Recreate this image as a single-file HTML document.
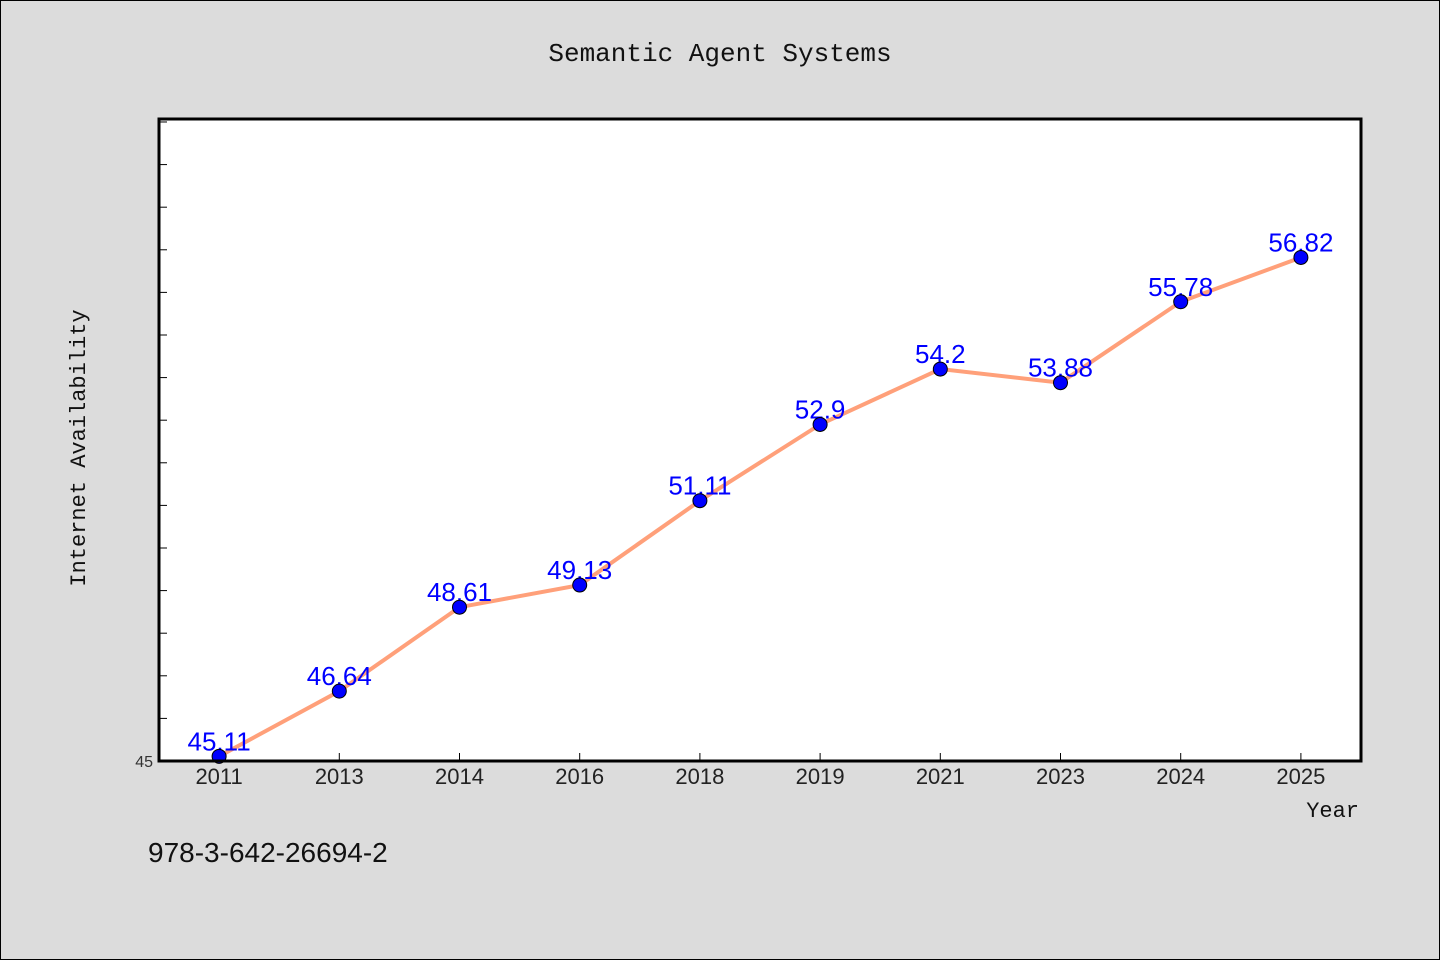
<!DOCTYPE html>
<html><head><meta charset="utf-8"><style>
html,body{margin:0;padding:0;background:#dcdcdc;}
svg{display:block;}
.t{font-family:"WenQuanYi Zen Hei Mono","WenQuanYi Zen Hei","Liberation Mono",monospace;}
.s{font-family:"WenQuanYi Zen Hei","Liberation Sans",sans-serif;}
</style></head><body>
<svg id="c" width="1440" height="960" xmlns="http://www.w3.org/2000/svg">
<rect x="0.5" y="0.5" width="1439" height="959" fill="#dcdcdc" stroke="#000"/>
<text class="t" x="720" y="61" font-size="26" text-anchor="middle" fill="#111">Semantic Agent Systems</text>
<rect x="159" y="119" width="1202" height="642" fill="#fff"/>
<g id="ticks"></g>
<g id="series"></g>
<g id="labels"></g>
<rect x="159" y="119" width="1202" height="642" fill="none" stroke="#000" stroke-width="3"/>
<text class="t" x="85" y="448" font-size="22" text-anchor="middle" fill="#111" transform="rotate(-90 85 448)">Internet Availability</text>
<text class="t" x="1359" y="817" font-size="22" text-anchor="end" fill="#111">Year</text>
<text class="s" x="148" y="862" font-size="28" fill="#111">978-3-642-26694-2</text>
</svg>
<script>
const categories=["2011","2013","2014","2016","2018","2019","2021","2023","2024","2025"];
const values=[45.11,46.64,48.61,49.13,51.11,52.9,54.2,53.88,55.78,56.82];
const yTickValues=[45,46,47,48,49,50,51,52,53,54,55,56,57,58,59,60];
const yTickLabels=["45"];
const NS="http://www.w3.org/2000/svg";
const L=159,R=1361,T=119,B=761,yMin=45,yMax=60.07;
const band=(R-L)/categories.length;
function xs(i){return L+band*(i+0.5);}
function ys(v){return B-(v-yMin)/(yMax-yMin)*(B-T);}
function mk(tag,a,p){const e=document.createElementNS(NS,tag);for(const k in a)e.setAttribute(k,a[k]);p.appendChild(e);return e;}
const tg=document.getElementById('ticks');
yTickValues.forEach((v,i)=>{
 const l=mk('line',{x1:L,x2:L+8,y1:ys(v),y2:ys(v),stroke:'#000','stroke-width':1},tg);
 
 
 if(yTickLabels[i]!==undefined){const t=mk('text',{x:L-6,y:ys(v)+6,'font-size':16,'text-anchor':'end',fill:'#333',class:'s'},tg);t.textContent=yTickLabels[i];
 
 }
});
categories.forEach((c,i)=>{
 const l=mk('line',{x1:xs(i),x2:xs(i),y1:B,y2:B-8,stroke:'#000','stroke-width':1},tg);
 
 
 const t=mk('text',{x:xs(i),y:B+23,'font-size':22,'text-anchor':'middle',fill:'#222',class:'s'},tg);t.textContent=c;
 
 
});
const lg=document.getElementById('labels');
values.forEach((v,i)=>{
 const t=mk('text',{x:xs(i),y:ys(v)-6,'font-size':26,'text-anchor':'middle',fill:'#0000ff',class:'s'},lg);t.textContent=String(v);
 
 
});
const sg=document.getElementById('series');
const pl=mk('polyline',{points:values.map((v,i)=>xs(i)+','+ys(v)).join(' '),fill:'none',stroke:'#ffa07a','stroke-width':4},sg);


const mg=document.getElementById('labels');
values.forEach((v,i)=>{
 const c=mk('circle',{cx:xs(i),cy:ys(v),r:7,fill:'#0000ff',stroke:'#000','stroke-width':1},mg);
 
 
});
</script>
</body></html>
